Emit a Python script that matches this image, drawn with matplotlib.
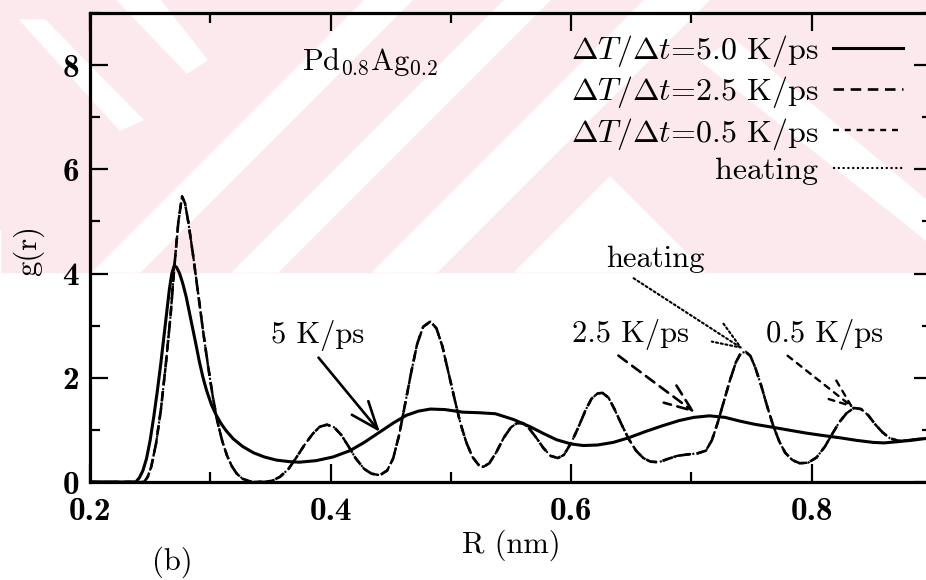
import numpy as np
import matplotlib.pyplot as plt
from matplotlib.patches import Polygon
from matplotlib.ticker import MultipleLocator

plt.rcParams['font.family'] = 'serif'
plt.rcParams['font.serif'] = ['cmr10']
plt.rcParams['mathtext.fontset'] = 'cm'
plt.rcParams['axes.unicode_minus'] = False

# ---------------------------------------------------------------------------
# Data: g(r) vs R (nm)
# ---------------------------------------------------------------------------
r_fast = [0.200, 0.238, 0.241, 0.244, 0.247, 0.250, 0.253, 0.256, 0.259,
          0.262, 0.264, 0.266, 0.268, 0.270, 0.272, 0.2745, 0.277, 0.280,
          0.284, 0.288, 0.291, 0.294, 0.297, 0.301, 0.305, 0.309, 0.313,
          0.319, 0.327, 0.336, 0.345, 0.355, 0.366, 0.374, 0.388, 0.402,
          0.416, 0.428, 0.441, 0.452, 0.463, 0.473, 0.483, 0.495, 0.510,
          0.523, 0.537, 0.552, 0.566, 0.577, 0.588, 0.600, 0.610, 0.622,
          0.635, 0.648, 0.662, 0.676, 0.690, 0.702, 0.715, 0.728, 0.740,
          0.752, 0.765, 0.780, 0.795, 0.810, 0.823, 0.837, 0.851, 0.860,
          0.870, 0.883, 0.900]
g_fast = [0.00, 0.00, 0.08, 0.22, 0.45, 0.80, 1.25, 1.75, 2.30,
          2.90, 3.30, 3.70, 4.00, 4.15, 4.12, 4.00, 3.82, 3.55,
          3.10, 2.65, 2.30, 2.00, 1.75, 1.48, 1.28, 1.12, 0.99,
          0.83, 0.68, 0.56, 0.48, 0.42, 0.39, 0.38, 0.41, 0.48,
          0.60, 0.76, 0.96, 1.13, 1.28, 1.36, 1.40, 1.39, 1.34,
          1.33, 1.31, 1.20, 1.06, 0.93, 0.81, 0.73, 0.70, 0.71,
          0.76, 0.85, 0.97, 1.08, 1.18, 1.24, 1.27, 1.24, 1.17,
          1.11, 1.06, 1.00, 0.94, 0.89, 0.85, 0.80, 0.76, 0.75,
          0.77, 0.80, 0.85]

r_slow = [0.200, 0.245, 0.248, 0.251, 0.255, 0.259, 0.263, 0.267, 0.270,
          0.2735, 0.2765, 0.279, 0.282, 0.286, 0.290, 0.294, 0.298, 0.302,
          0.306, 0.310, 0.314, 0.318, 0.322, 0.327, 0.333, 0.345, 0.352,
          0.358, 0.365, 0.371, 0.378, 0.385, 0.391, 0.397, 0.403, 0.409,
          0.415, 0.421, 0.428, 0.434, 0.441, 0.447, 0.452, 0.457, 0.462,
          0.467, 0.472, 0.477, 0.483, 0.488, 0.493, 0.498, 0.503, 0.508,
          0.513, 0.518, 0.523, 0.527, 0.532, 0.538, 0.544, 0.550, 0.555,
          0.560, 0.565, 0.571, 0.577, 0.583, 0.589, 0.594, 0.600, 0.606,
          0.612, 0.617, 0.622, 0.626, 0.631, 0.636, 0.642, 0.648, 0.654,
          0.660, 0.666, 0.673, 0.680, 0.688, 0.697, 0.705, 0.712, 0.717,
          0.722, 0.727, 0.732, 0.737, 0.741, 0.745, 0.749, 0.753, 0.758,
          0.763, 0.768, 0.773, 0.778, 0.784, 0.790, 0.797, 0.804, 0.811,
          0.817, 0.823, 0.829, 0.835, 0.841, 0.847, 0.853, 0.859, 0.865,
          0.872, 0.880, 0.890, 0.900]
g_slow = [0.00, 0.00, 0.10, 0.30, 0.75, 1.40, 2.25, 3.20, 4.10,
          5.00, 5.48, 5.35, 4.95, 4.30, 3.60, 2.90, 2.25, 1.65,
          1.15, 0.78, 0.50, 0.30, 0.16, 0.06, 0.01, 0.00, 0.03,
          0.10, 0.25, 0.45, 0.70, 0.92, 1.06, 1.10, 1.05, 0.90,
          0.68, 0.45, 0.25, 0.16, 0.13, 0.22, 0.45, 0.90, 1.50,
          2.10, 2.65, 2.98, 3.08, 2.95, 2.60, 2.10, 1.60, 1.12,
          0.75, 0.48, 0.33, 0.29, 0.36, 0.58, 0.85, 1.05, 1.13,
          1.13, 1.03, 0.85, 0.65, 0.50, 0.46, 0.52, 0.75, 1.05,
          1.38, 1.60, 1.70, 1.71, 1.62, 1.40, 1.10, 0.82, 0.60,
          0.46, 0.39, 0.38, 0.44, 0.50, 0.53, 0.55, 0.60, 0.80,
          1.15, 1.55, 1.95, 2.30, 2.47, 2.50, 2.42, 2.20, 1.85,
          1.45, 1.08, 0.78, 0.56, 0.42, 0.36, 0.37, 0.47, 0.68,
          0.92, 1.15, 1.32, 1.42, 1.40, 1.28, 1.10, 0.95, 0.84,
          0.79, 0.80, 0.83, 0.85]

legend_labels = [r'$\Delta T/\Delta t$=5.0 K/ps', r'$\Delta T/\Delta t$=2.5 K/ps',
                 r'$\Delta T/\Delta t$=0.5 K/ps', 'heating']

W, H = 926, 580
fig = plt.figure(figsize=(W / 100, H / 100), dpi=100)


def px(pts):
    # pixel coordinates of the scan -> figure fraction
    return [(x / W, 1 - y / H) for x, y in pts]


# watermark of the scanned page: pink band with white diagonal shapes
wm_y = 272
fig.patches.append(Polygon(px([(0, 0), (W, 0), (W, wm_y), (0, wm_y)]), closed=True,
                           transform=fig.transFigure, color='#fce9ed', zorder=-10))
white_shapes = [
    # "/" bands at 45 degrees
    [(93, wm_y), (140, wm_y), (140 + wm_y, 0), (93 + wm_y, 0)],
    [(233, wm_y), (278, wm_y), (278 + wm_y, 0), (233 + wm_y, 0)],
    [(373, wm_y), (437, wm_y), (437 + wm_y, 0), (373 + wm_y, 0)],
    [(-40, wm_y), (0, wm_y), (0, 230)],
    # "\" pieces
    [(117, 0), (160, 0), (207, 60), (187, 73)],
    [(20, 20), (45, 20), (143, 120), (120, 130)],
    # chevron near the middle
    [(610, 177), (705, wm_y), (515, wm_y)],
    [(700, 60), (735, 40), (926, 200), (926, 240)],
]
for shp in white_shapes:
    fig.patches.append(Polygon(px(shp), closed=True, transform=fig.transFigure,
                               color='white', zorder=-9, clip_on=False))

ax = fig.add_axes([90 / W, 1 - 482 / H, 842 / W, 469 / H])
ax.patch.set_alpha(0)

ax.plot(r_fast, g_fast, color='black', lw=2.2, ls='-', label=legend_labels[0])
ax.plot(r_slow, g_slow, color='black', lw=1.9, ls=(0, (4, 2.5)), label=legend_labels[1])
ax.plot(r_slow, g_slow, color='black', lw=1.7, ls=(0, (2.5, 2.5)), label=legend_labels[2])
ax.plot(r_slow, g_slow, color='black', lw=1.5, ls=(0, (1, 1.3)), label=legend_labels[3])

ax.set_xlim(0.2, 0.9)
ax.set_ylim(0, 9)
ax.xaxis.set_minor_locator(MultipleLocator(0.1))
ax.yaxis.set_minor_locator(MultipleLocator(1))
ax.set_xticks([0.2, 0.4, 0.6, 0.8])
ax.set_xticklabels(['0.2', '0.4', '0.6', '0.8'])
ax.set_yticks([0, 2, 4, 6, 8])
ax.set_yticklabels(['0', '2', '4', '6', '8'])
ax.tick_params(which='both', direction='in', top=True, right=True, width=1.6)
ax.tick_params(which='major', length=13, labelsize=24)
ax.tick_params(which='minor', length=7)
ax.tick_params(axis='x', which='major', pad=11)
ax.tick_params(axis='y', which='major', pad=8)
for lab in ax.get_xticklabels() + ax.get_yticklabels():
    lab.set_fontfamily('cmb10')
for sp in ax.spines.values():
    sp.set_linewidth(2.3)

ax.set_xlabel('R (nm)', fontsize=22)
ax.set_ylabel('g(r)', fontsize=22)
ax.xaxis.set_label_coords(0.5, (482 - 530) / 469)
ax.yaxis.set_label_coords((44 - 90) / 842, (482 - 251) / 469)

leg = ax.legend(loc='upper right', bbox_to_anchor=(0.966, 0.958), frameon=False,
                markerfirst=False, fontsize=23, handlelength=2.2, handletextpad=0.47,
                labelspacing=0.17, borderpad=0, borderaxespad=0)

ax.text(0.376, 8.06, r'Pd$_{\mathbf{0.8}}$Ag$_{\mathbf{0.2}}$', fontsize=22,
        ha='left', va='center')

# arrows with labels
head = '->,head_length=0.9,head_width=0.35'
ax.annotate('5 K/ps', xy=(0.441, 0.96), xytext=(0.389, 2.82), fontsize=22,
            ha='center', va='center',
            arrowprops=dict(arrowstyle=head, color='black', lw=1.9, relpos=(0.45, 0),
                            shrinkA=4, shrinkB=0))
ax.annotate('2.5 K/ps', xy=(0.703, 1.33), xytext=(0.649, 2.84), fontsize=22,
            ha='center', va='center',
            arrowprops=dict(arrowstyle=head, color='black', lw=1.9, ls=(0, (4, 2.5)),
                            relpos=(0.33, 0), shrinkA=4, shrinkB=0))
ax.annotate('0.5 K/ps', xy=(0.835, 1.42), xytext=(0.811, 2.84), fontsize=22,
            ha='center', va='center',
            arrowprops=dict(arrowstyle=head, color='black', lw=1.7, ls=(0, (2.5, 2.5)),
                            relpos=(0.08, 0.1), shrinkA=4, shrinkB=0))
ax.annotate('heating', xy=(0.743, 2.55), xytext=(0.670, 4.27), fontsize=22,
            ha='center', va='center',
            arrowprops=dict(arrowstyle=head, color='black', lw=1.5, ls=(0, (1, 1.3)),
                            relpos=(0.2, 0), shrinkA=3, shrinkB=0))

fig.text(172 / W, 1 - 562 / H, '(b)', fontsize=22, ha='center', va='center')

fig.savefig('out.png', dpi=100)
